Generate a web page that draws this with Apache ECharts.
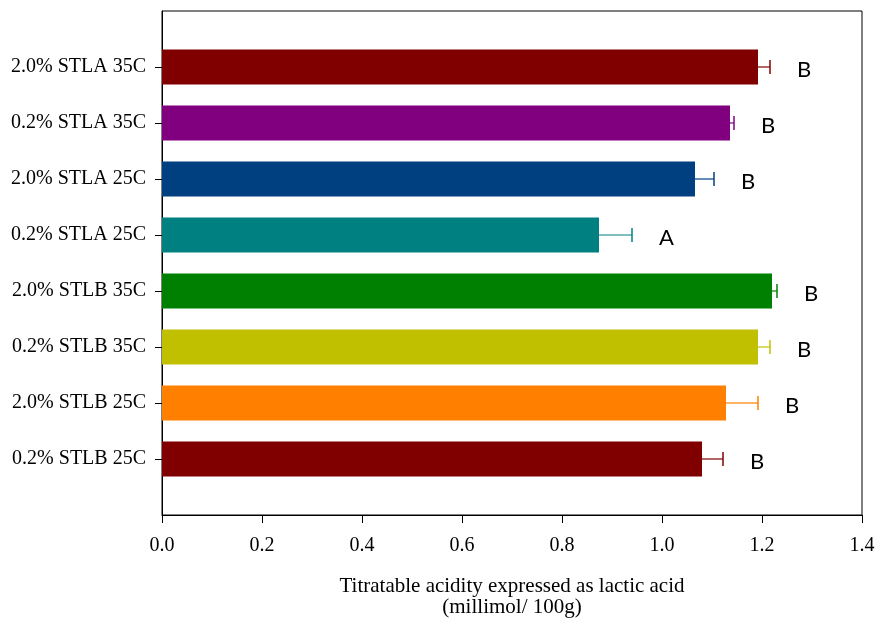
<!DOCTYPE html>
<html><head><meta charset="utf-8">
<script src="https://cdn.jsdelivr.net/npm/echarts@6/dist/echarts.min.js"></script>
<style>html,body{margin:0;padding:0;background:#fff}#c{width:878px;height:622px}</style>
</head><body><div id="c"></div>
<script>
// bottom-to-top order
var categories = ['0.2% STLB 25C','2.0% STLB 25C','0.2% STLB 35C','2.0% STLB 35C','0.2% STLA 25C','2.0% STLA 25C','0.2% STLA 35C','2.0% STLA 35C'];
var means = [1.080, 1.128, 1.192, 1.220, 0.874, 1.066, 1.136, 1.192];
var errors = [0.042, 0.064, 0.024, 0.010, 0.066, 0.038, 0.008, 0.024];
var letters = ['B','B','B','B','A','B','B','B'];
var colors = ['#800000','#FF8000','#C0C000','#008000','#008080','#004080','#800080','#800000'];
var xTicks = [0, 0.2, 0.4, 0.6, 0.8, 1.0, 1.2, 1.4];

var axisCats = [''].concat(categories).concat(['']);
var barData = ['-'].concat(means.map(function(v,i){return {value:v,itemStyle:{color:colors[i]}};})).concat(['-']);
var errData = means.map(function(v,i){return [v, i+1, errors[i], i];});

var chart = echarts.init(document.getElementById('c'));
chart.setOption({
  animation:false,
  grid:{left:162,right:16,top:11,bottom:107,show:true,borderColor:'#000',borderWidth:1,containLabel:false,outerBoundsMode:'none'},
  xAxis:{type:'value',min:xTicks[0],max:xTicks[xTicks.length-1],interval:0.2,
    axisLine:{show:true,lineStyle:{color:'#000',width:1}},
    axisTick:{show:true,length:8,lineStyle:{color:'#000'}},
    splitLine:{show:false},
    axisLabel:{color:'#000',fontFamily:'Liberation Serif',fontSize:20,margin:21,formatter:function(v){return v.toFixed(1);}},
    name:'Titratable acidity expressed as lactic acid\n(millimol/ 100g)',nameLocation:'middle',nameGap:61,
    nameTextStyle:{color:'#000',fontFamily:'Liberation Serif',fontSize:21,lineHeight:21}
  },
  yAxis:{type:'category',data:axisCats,boundaryGap:false,
    axisLine:{show:true,lineStyle:{color:'#000',width:1}},
    axisTick:{show:true,length:7,inside:false,lineStyle:{color:'#000'},interval:function(i){return i>0&&i<axisCats.length-1;}},
    axisLabel:{color:'#000',fontFamily:'Liberation Serif',fontSize:20,margin:16,interval:0},
    splitLine:{show:false}
  },
  series:[
    {type:'bar',data:barData,barWidth:35,z:2},
    {type:'custom',z:3,data:errData,encode:{x:0,y:1},
      renderItem:function(params,api){
        var v=api.value(0),c=api.value(1),e=api.value(2),idx=api.value(3);
        var p0=api.coord([v,c]),p1=api.coord([v+e,c]);
        var col=colors[idx];
        return {type:'group',children:[
          {type:'line',shape:{x1:p0[0],y1:p0[1],x2:p1[0],y2:p1[1]},style:{stroke:col,lineWidth:1.2}},
          {type:'line',shape:{x1:p1[0],y1:p1[1]-7,x2:p1[0],y2:p1[1]+7},style:{stroke:col,lineWidth:1.5}},
          {type:'text',x:p1[0]+27,y:p1[1]+3,style:{text:letters[idx],fill:'#000',font:'22px Lato',textAlign:'left',textVerticalAlign:'middle'}}
        ]};
      }
    }
  ]
});
</script></body></html>
